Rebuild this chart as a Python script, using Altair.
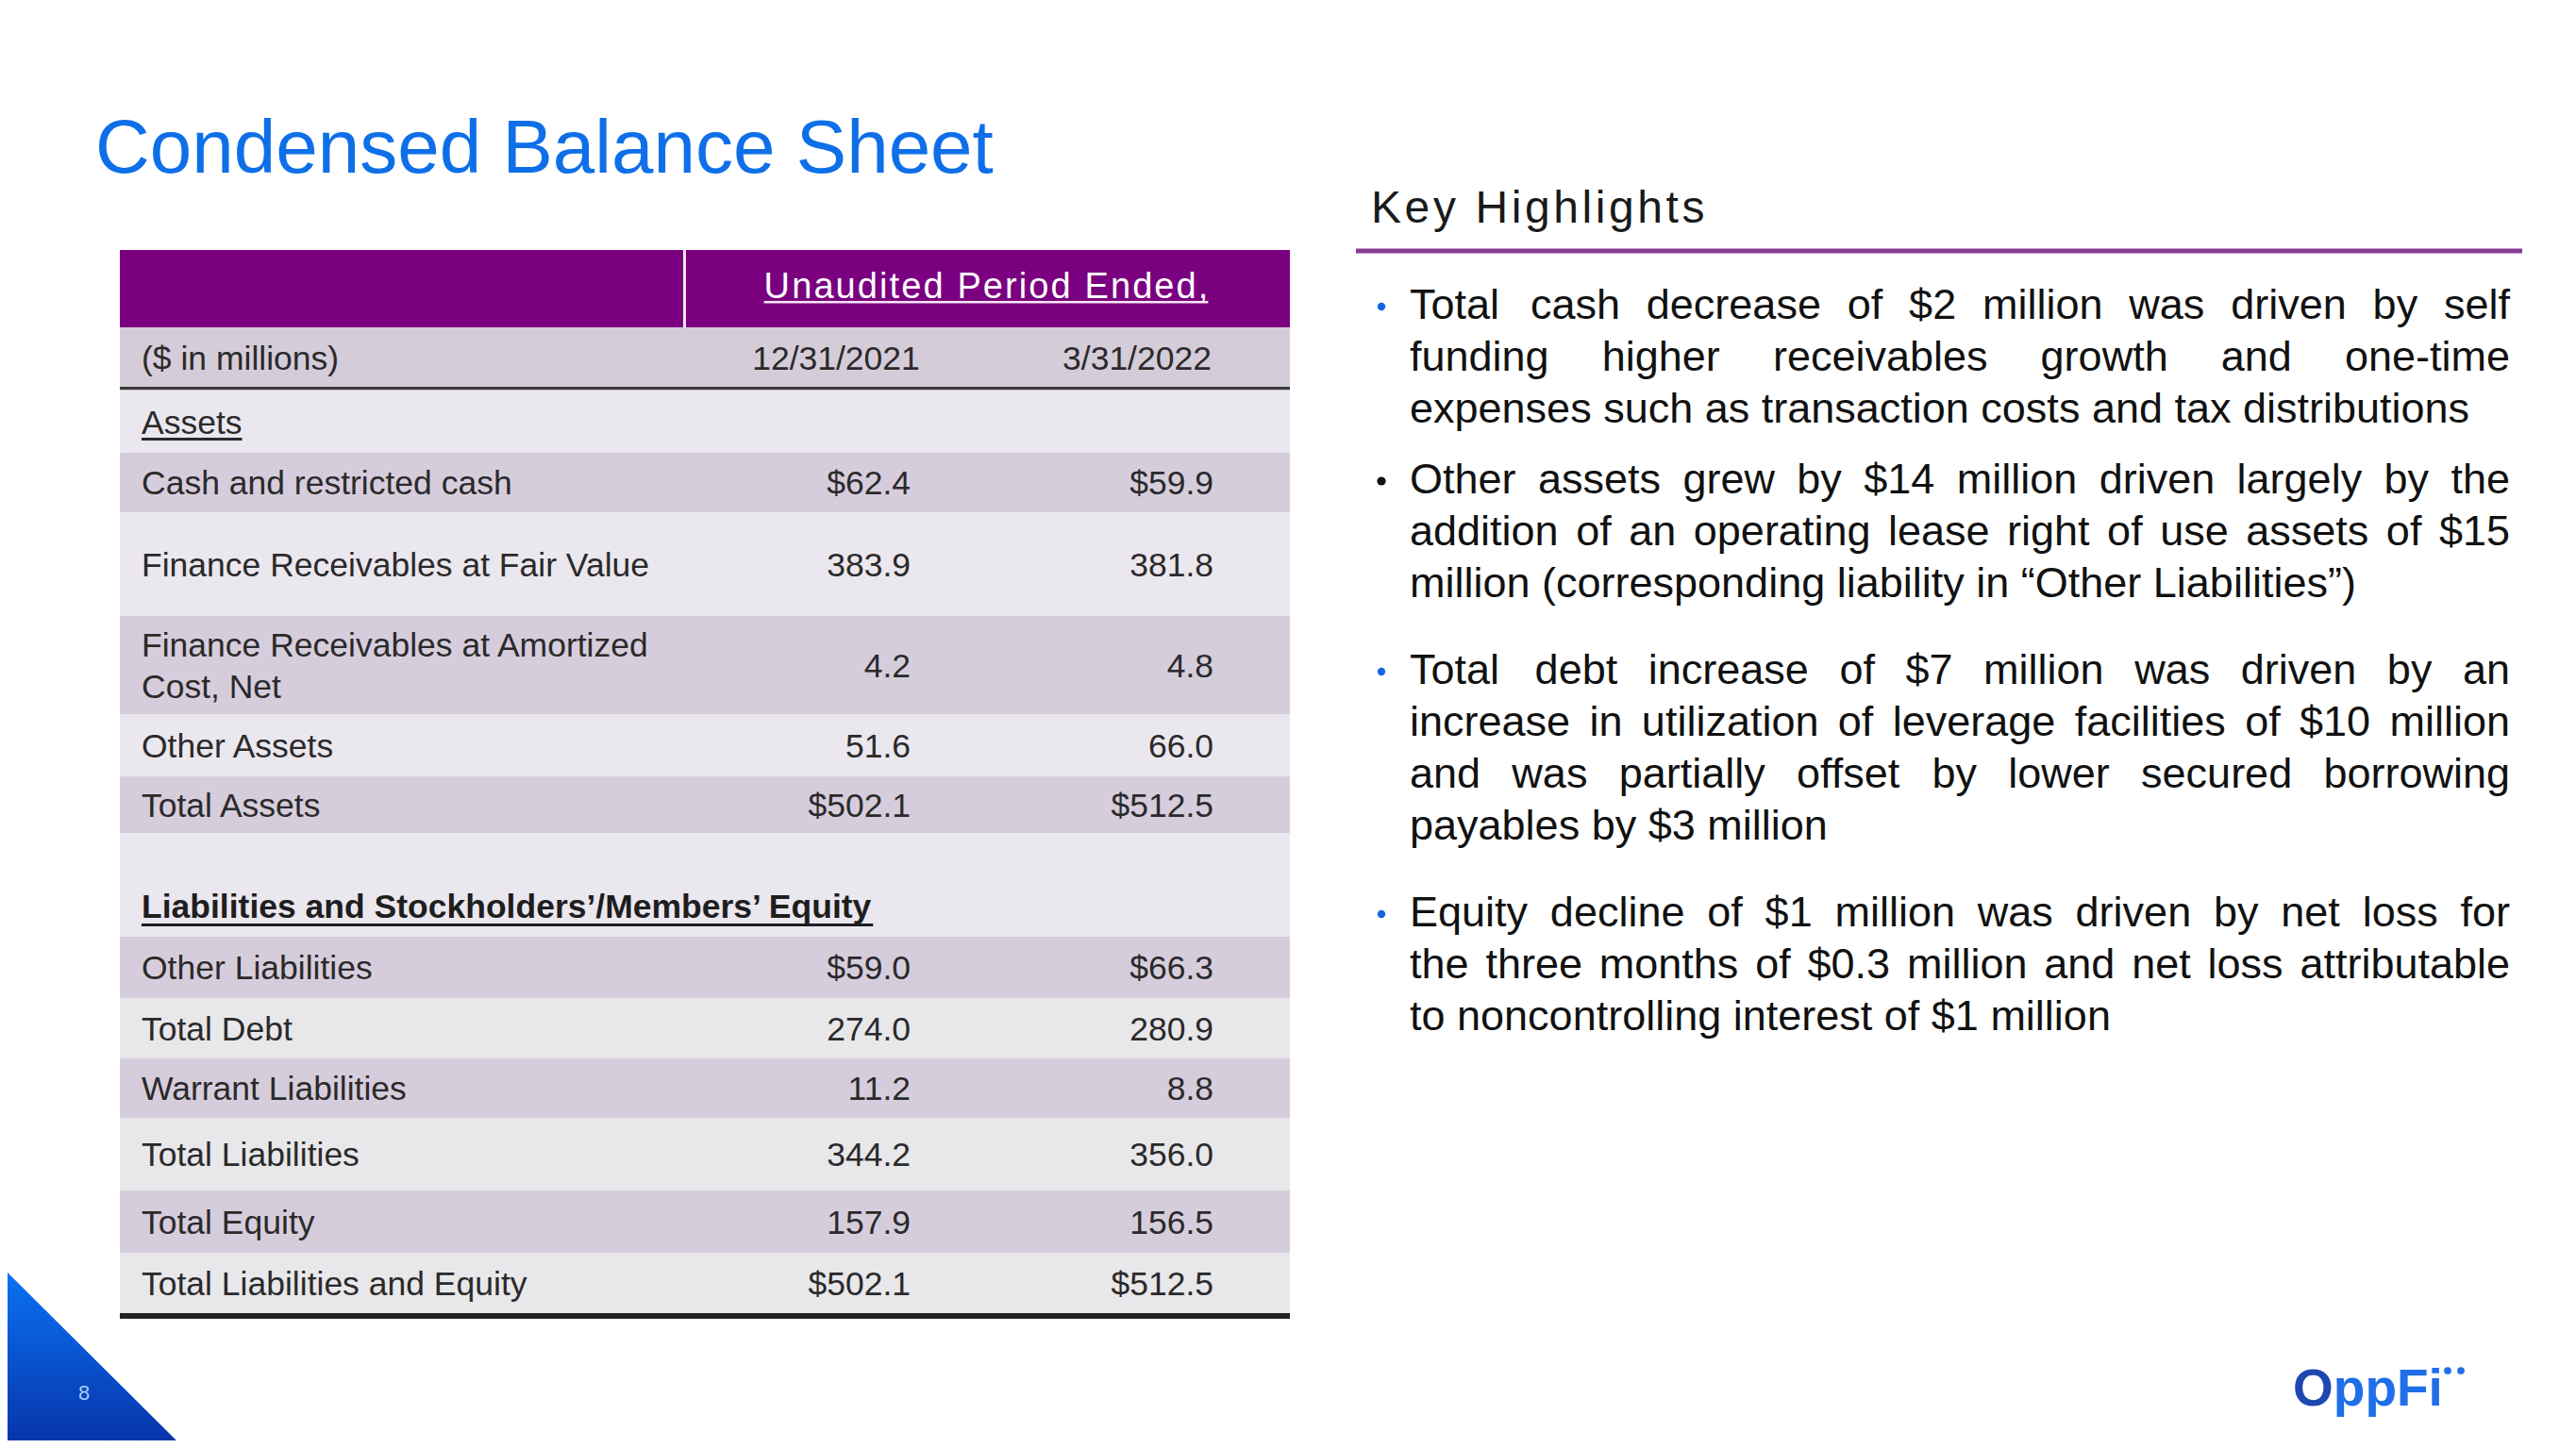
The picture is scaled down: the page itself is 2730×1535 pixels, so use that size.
import altair as alt
import pandas as pd

# ---------------------------------------------------------------- data
TITLE = "Condensed Balance Sheet"
HEADER_SPAN = "Unaudited Period Ended,"
UNIT_LABEL = "($ in millions)"
PERIODS = ["12/31/2021", "3/31/2022"]
SECTION_ASSETS = "Assets"
SECTION_LIAB = "Liabilities and Stockholders\u2019/Members\u2019 Equity"

ASSET_ROWS = ["Cash and restricted cash",
              "Finance Receivables at Fair Value",
              "Finance Receivables at Amortized\nCost, Net",
              "Other Assets",
              "Total Assets"]
ASSET_2021 = [62.4, 383.9, 4.2, 51.6, 502.1]
ASSET_2022 = [59.9, 381.8, 4.8, 66.0, 512.5]

LIAB_ROWS = ["Other Liabilities", "Total Debt", "Warrant Liabilities",
             "Total Liabilities", "Total Equity", "Total Liabilities and Equity"]
LIAB_2021 = [59.0, 274.0, 11.2, 344.2, 157.9, 502.1]
LIAB_2022 = [66.3, 280.9, 8.8, 356.0, 156.5, 512.5]

DOLLAR_ROWS = ["Cash and restricted cash", "Total Assets",
               "Other Liabilities", "Total Liabilities and Equity"]

HIGHLIGHTS_TITLE = "Key Highlights"
BULLETS = [
    ["Total cash decrease of $2 million was driven by self",
     "funding higher receivables growth and one-time",
     "expenses such as transaction costs and tax distributions"],
    ["Other assets grew by $14 million driven largely by the",
     "addition of an operating lease right of use assets of $15",
     "million (corresponding liability in \u201cOther Liabilities\u201d)"],
    ["Total debt increase of $7 million was driven by an",
     "increase in utilization of leverage facilities of $10 million",
     "and was partially offset by lower secured borrowing",
     "payables by $3 million"],
    ["Equity decline of $1 million was driven by net loss for",
     "the three months of $0.3 million and net loss attributable",
     "to noncontrolling interest of $1 million"],
]
PAGE_NUMBER = "8"
LOGO_HEAD = "O"
LOGO_TAIL = "ppFi"

# ---------------------------------------------------------------- layout / style
FONT = "Liberation Sans, Arial, Helvetica, sans-serif"
BLUE_TITLE = "#0E6FE8"
PURPLE = "#7A0080"
ROW_DARK = "#D6CDDC"
ROW_LIGHT_A = "#EBE7EE"
ROW_LIGHT_B = "#E8E7EA"
TXT = "#2A2A2A"
BULLET_COLORS = ["#1466E0", "#111111", "#1466E0", "#1466E0"]

T_LEFT, T_RIGHT = 127, 1367
LABEL_X = 150
COL_RIGHT = [965, 1286]
COL_CENTER = [886, 1205]
FS_TAB = 35.5
ASSET_BANDS = [(480, 543), (543, 653), (653, 757), (757, 823), (823, 883)]
LIAB_BANDS = [(993, 1058), (1058, 1122), (1122, 1185), (1185, 1262), (1262, 1328), (1328, 1392)]

PARA_FIRST_BASE = [338, 523, 725, 982]
LINE_STEP = 55
FS_BUL = 45
BUL_X0, BUL_X1 = 1494, 2660
DOT_X = 1464

# Arial / Liberation Sans advance widths (1/1000 em)
REG = {' ': 278, '!': 278, '"': 355, '$': 556, '%': 889, '&': 667, "'": 191,
       '(': 333, ')': 333, ',': 278, '-': 333, '.': 278, '/': 278, ':': 278,
       '\u201c': 333, '\u201d': 333, '\u2019': 222,
       'A': 667, 'B': 667, 'C': 722, 'D': 722, 'E': 667, 'F': 611, 'G': 778,
       'H': 722, 'I': 278, 'J': 500, 'K': 667, 'L': 556, 'M': 833, 'N': 722,
       'O': 778, 'P': 667, 'Q': 778, 'R': 722, 'S': 667, 'T': 611, 'U': 722,
       'V': 667, 'W': 944, 'X': 667, 'Y': 667, 'Z': 611,
       'a': 556, 'b': 556, 'c': 500, 'd': 556, 'e': 556, 'f': 278, 'g': 556,
       'h': 556, 'i': 222, 'j': 222, 'k': 500, 'l': 222, 'm': 833, 'n': 556,
       'o': 556, 'p': 556, 'q': 556, 'r': 333, 's': 500, 't': 278, 'u': 556,
       'v': 500, 'w': 722, 'x': 500, 'y': 500, 'z': 500}
BOLD = {' ': 278, '$': 556, '(': 333, ')': 333, ',': 278, '-': 333, '.': 278,
        '/': 278, '\u2019': 278,
        'A': 722, 'B': 722, 'C': 722, 'D': 722, 'E': 667, 'F': 611, 'G': 778,
        'H': 722, 'I': 278, 'J': 556, 'K': 722, 'L': 611, 'M': 833, 'N': 722,
        'O': 778, 'P': 667, 'Q': 778, 'R': 722, 'S': 667, 'T': 611, 'U': 722,
        'V': 667, 'W': 944, 'X': 667, 'Y': 667, 'Z': 611,
        'a': 556, 'b': 611, 'c': 556, 'd': 611, 'e': 556, 'f': 333, 'g': 611,
        'h': 611, 'i': 278, 'j': 278, 'k': 556, 'l': 278, 'm': 889, 'n': 611,
        'o': 611, 'p': 611, 'q': 611, 'r': 389, 's': 556, 't': 333, 'u': 611,
        'v': 556, 'w': 778, 'x': 556, 'y': 556, 'z': 500}


def tw(s, fs, bold=False):
    tab = BOLD if bold else REG
    return sum(tab.get(ch, 556) for ch in s) * fs / 1000.0


left, left_bold, right, center = [], [], [], []
rects = []
dots = []


def rect(x, x2, y, y2, c):
    rects.append({"x": x, "x2": x2, "y": y, "y2": y2, "c": c})


def spaced(s, x, y, fs, spacing, color):
    for ch in s:
        if ch != ' ':
            left.append({"x": x, "y": y, "t": ch, "s": fs, "c": color})
        x += tw(ch, fs) + spacing
    return x


def fmt(label, v):
    return ("$" if label in DOLLAR_ROWS else "") + f"{v:.1f}"


# ---------------------------------------------------------------- title
left.append({"x": 101, "y": 183, "t": TITLE, "s": 80, "c": BLUE_TITLE})

# ---------------------------------------------------------------- table backgrounds
rect(T_LEFT, T_RIGHT, 265, 347, PURPLE)
rect(724, 727, 265, 347, "#F3E6F3")
rect(T_LEFT, T_RIGHT, 347, 413, "#D5CCD9")
rect(T_LEFT, T_RIGHT, 410, 413.5, "#3A3A3A")
rect(T_LEFT, T_RIGHT, 413.5, 480, ROW_LIGHT_A)
for i, (a, b) in enumerate(ASSET_BANDS):
    rect(T_LEFT, T_RIGHT, a, b, ROW_DARK if i % 2 == 0 else ROW_LIGHT_A)
rect(T_LEFT, T_RIGHT, 883, 993, ROW_LIGHT_A)
for i, (a, b) in enumerate(LIAB_BANDS):
    rect(T_LEFT, T_RIGHT, a, b, ROW_DARK if i % 2 == 0 else ROW_LIGHT_B)
rect(T_LEFT, T_RIGHT, 1392, 1398, "#222222")

# header texts
fs_h = 38
w_h = tw(HEADER_SPAN, fs_h)
sp_h = 2.1
tot_h = w_h + sp_h * (len(HEADER_SPAN) - 1)
hx0 = 1045 - tot_h / 2
spaced(HEADER_SPAN, hx0, 316, fs_h, sp_h, "#FFFFFF")
rect(hx0, hx0 + tot_h, 319, 321.5, "#F6E8F6")

left.append({"x": LABEL_X, "y": 392, "t": UNIT_LABEL, "s": FS_TAB, "c": TXT})
for cx, p in zip(COL_CENTER, PERIODS):
    center.append({"x": cx, "y": 392, "t": p, "s": FS_TAB, "c": TXT})

# section: assets
left.append({"x": LABEL_X, "y": 460, "t": SECTION_ASSETS, "s": FS_TAB, "c": TXT})
rect(LABEL_X, LABEL_X + tw(SECTION_ASSETS, FS_TAB), 464, 467, TXT)


def body_rows(labels, v1, v2, bands):
    for lab, a, b, (y0, y1) in zip(labels, v1, v2, bands):
        mid = (y0 + y1) / 2.0
        base = mid + 12.5
        parts = lab.split("\n")
        if len(parts) == 1:
            left.append({"x": LABEL_X, "y": base, "t": lab, "s": FS_TAB, "c": TXT})
        else:
            for k, ptxt in enumerate(parts):
                left.append({"x": LABEL_X, "y": base - 22 + 44 * k, "t": ptxt,
                             "s": FS_TAB, "c": TXT})
        right.append({"x": COL_RIGHT[0], "y": base, "t": fmt(lab, a), "s": FS_TAB, "c": TXT})
        right.append({"x": COL_RIGHT[1], "y": base, "t": fmt(lab, b), "s": FS_TAB, "c": TXT})


body_rows(ASSET_ROWS, ASSET_2021, ASSET_2022, ASSET_BANDS)

# section: liabilities
left_bold.append({"x": LABEL_X, "y": 973, "t": SECTION_LIAB, "s": FS_TAB, "c": "#1E1E1E"})
rect(LABEL_X, LABEL_X + tw(SECTION_LIAB, FS_TAB, True), 979, 982, "#1E1E1E")
body_rows(LIAB_ROWS, LIAB_2021, LIAB_2022, LIAB_BANDS)

# ---------------------------------------------------------------- key highlights
spaced(HIGHLIGHTS_TITLE, 1453, 236, 48, 3.6, "#1A1A1A")
rect(1437, 2673, 263.5, 268.5, "#883C94")

for p, lines in enumerate(BULLETS):
    base0 = PARA_FIRST_BASE[p]
    dots.append({"x": DOT_X, "y": base0 - 13, "c": BULLET_COLORS[p],
                 "s": 85 if BULLET_COLORS[p] == "#111111" else 70})
    for li, line in enumerate(lines):
        y = base0 + LINE_STEP * li
        if li == len(lines) - 1:
            left.append({"x": BUL_X0, "y": y, "t": line, "s": FS_BUL, "c": "#111111"})
            continue
        words = line.split(" ")
        widths = [tw(w, FS_BUL) for w in words]
        gap = (BUL_X1 - BUL_X0 - sum(widths)) / (len(words) - 1)
        x = BUL_X0
        for w, wd in zip(words, widths):
            left.append({"x": x, "y": y, "t": w, "s": FS_BUL, "c": "#111111"})
            x += wd + gap

# ---------------------------------------------------------------- footer
center.append({"x": 89, "y": 1484, "t": PAGE_NUMBER, "s": 22, "c": "#A9CCFF"})
fs_logo = 55
left_bold.append({"x": 2430, "y": 1490, "t": LOGO_HEAD, "s": fs_logo, "c": "#1F47B0"})
left_bold.append({"x": 2430 + tw(LOGO_HEAD, fs_logo, True), "y": 1490, "t": LOGO_TAIL,
                  "s": fs_logo, "c": "#1E6FE8"})
dots.append({"x": 2594, "y": 1453, "c": "#1E6FE8", "s": 60})
dots.append({"x": 2608, "y": 1453, "c": "#1E6FE8", "s": 60})

# ---------------------------------------------------------------- chart
XS = alt.Scale(domain=[8, 2722], nice=False, zero=False)
YS = alt.Scale(domain=[8, 1527], nice=False, zero=False, reverse=True)


def X(f="x"):
    return alt.X(f"{f}:Q", scale=XS, axis=None)


def Y(f="y"):
    return alt.Y(f"{f}:Q", scale=YS, axis=None)


triangle = pd.DataFrame({"x": [0, 195], "y": [1341, 1535], "y2": [1535, 1535]})
tri_layer = alt.Chart(triangle).mark_area(
    color=alt.Gradient(gradient="linear",
                       stops=[alt.GradientStop(offset=0, color="#0B74F6"),
                              alt.GradientStop(offset=1, color="#0733A8")],
                       x1=0, x2=0, y1=0, y2=1)
).encode(x=X(), y=Y(), y2="y2:Q")

rect_layer = alt.Chart(pd.DataFrame(rects)).mark_rect().encode(
    x=X(), x2="x2:Q", y=Y(), y2="y2:Q", color=alt.Color("c:N", scale=None))

dot_layer = alt.Chart(pd.DataFrame(dots)).mark_circle(opacity=1).encode(
    x=X(), y=Y(), color=alt.Color("c:N", scale=None), size=alt.Size("s:Q", scale=None))


def text_layer(records, align, weight):
    return alt.Chart(pd.DataFrame(records)).mark_text(
        align=align, baseline="alphabetic", font=FONT, fontWeight=weight
    ).encode(x=X(), y=Y(), text="t:N",
             size=alt.Size("s:Q", scale=None), color=alt.Color("c:N", scale=None))


chart = alt.layer(
    tri_layer, rect_layer, dot_layer,
    text_layer(left, "left", "normal"),
    text_layer(left_bold, "left", "bold"),
    text_layer(right, "right", "normal"),
    text_layer(center, "center", "normal"),
).properties(
    width=2714, height=1519, padding=0, background="#FFFFFF",
    autosize=alt.AutoSizeParams(type="none")
).configure_view(stroke=None)

chart.save("out.html", embed_options={"renderer": "svg", "actions": False})
